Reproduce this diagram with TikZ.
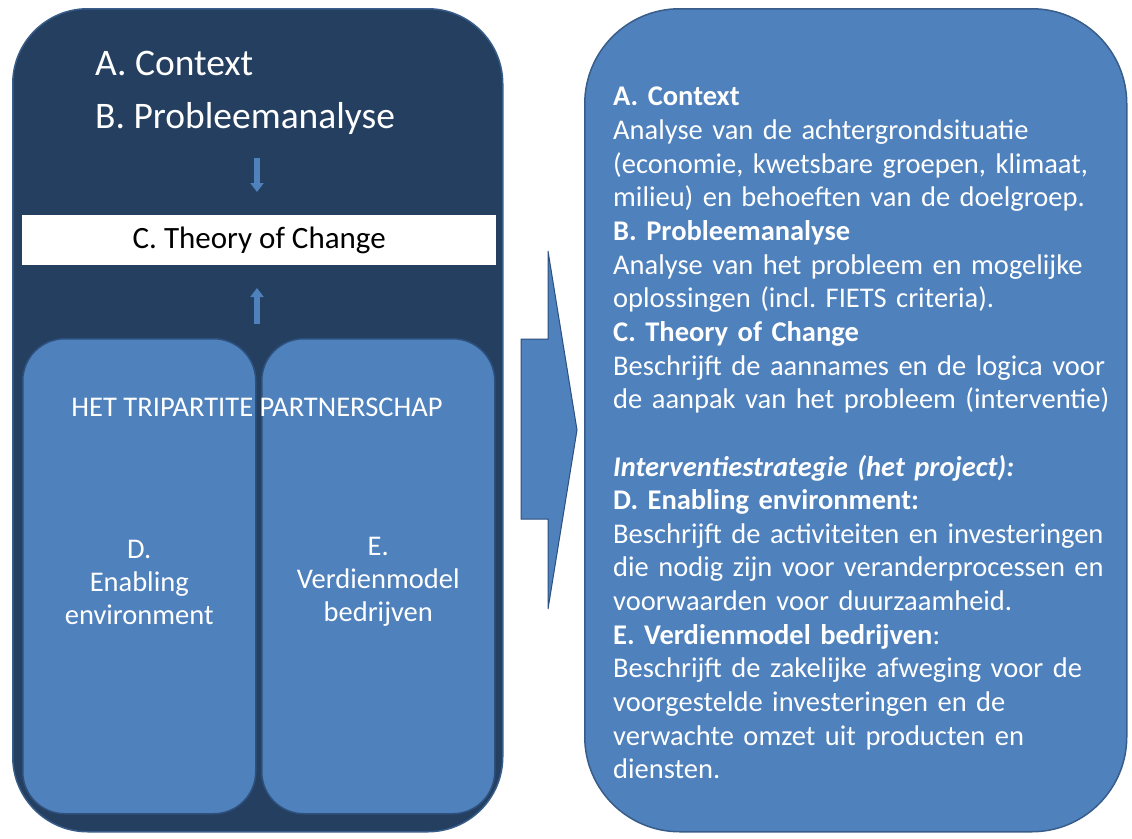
\documentclass[tikz,border=0pt]{standalone}
\usepackage{fontspec}
\setmainfont{Carlito}
\frenchspacing
\usetikzlibrary{arrows.meta,positioning}
\definecolor{navy}{RGB}{37,63,96}
\definecolor{officeblue}{RGB}{79,129,189}
\definecolor{blueline}{RGB}{56,93,138}
\definecolor{partline}{RGB}{45,80,125}
\begin{document}
\begin{tikzpicture}[x=1pt,y=-1pt,
   panel/.style={anchor=north west,inner sep=0pt,line width=1.5pt,rounded corners=#1},
   part/.style={panel=42pt,fill=officeblue,draw=partline,minimum width=233pt,minimum height=475pt},
   flow/.style={officeblue,line width=6pt,-{Triangle[width=13pt,length=9pt]}},
   plain/.style={text=white,inner sep=0pt}]
\useasboundingbox (0,0) rectangle (1132,838);
% left panel
\node[panel=75pt,fill=navy,draw=blueline,minimum width=490pt,minimum height=823pt] (left) at (12,8) {};
\node[plain,anchor=base west,font=\fontsize{37.5}{42}\selectfont] (ctx) at (95,75) {A. Context};
\node[plain,anchor=base west,font=\fontsize{37.5}{42}\selectfont] (prob) at (95,128) {B. Probleemanalyse};
\node[anchor=north west,fill=white,minimum width=474pt,minimum height=50pt,inner sep=0pt,
   font=\fontsize{31}{36}\selectfont] (toc) at (22,215) {C. Theory of Change};
\coordinate (d1) at (257,158);
\coordinate (d2) at (257,192);
\coordinate (u1) at (257,324);
\coordinate (u2) at (257,288);
\draw[flow] (d1) -- (d2);
\draw[flow] (u1) -- (u2);
% het partnerschap
\foreach \x/\n in {22/pd,261/pe} {
   \node[part] (\n) at (\x,338) {};
}
\node[plain,font=\fontsize{28.5}{32}\selectfont] (tri) at (257,407) {HET TRIPARTITE PARTNERSCHAP};
\node[plain,align=center,font=\fontsize{28.5}{33}\selectfont] (dlab) at ([yshift=-6pt]pd.center) {D.\\Enabling\\environment};
\node[plain,align=center,font=\fontsize{28.5}{33}\selectfont] (elab) at ([yshift=-6pt]pe.center) {E.\\Verdienmodel\\bedrijven};
% pijl
\draw[fill=officeblue,draw=partline,line width=1pt] (521,339) -- (548,339) -- (548,251) -- (577,430)
   -- (548,609) -- (548,519) -- (521,519) -- cycle;
% right panel
\node[panel=95pt,fill=officeblue,draw=blueline,minimum width=542pt,minimum height=823pt] (right) at (584,8) {};
\node[plain,anchor=north west,align=left,text width=510pt,font=\fontsize{28.5}{33.65}\selectfont] (desc) at (613,87) {%
\textbf{A. Context}\\
Analyse van de achtergrondsituatie\\
(economie, kwetsbare groepen, klimaat,\\
milieu) en behoeften van de doelgroep.\\
\textbf{B. Probleemanalyse}\\
Analyse van het probleem en mogelijke\\
oplossingen (incl. FIETS criteria).\\
\textbf{C. Theory of Change}\\
Beschrijft de aannames en de logica voor\\
de aanpak van het probleem (interventie)\\[33.65pt]
\textbf{\textit{Interventiestrategie (het project):}}\\
\textbf{D. Enabling environment:}\\
Beschrijft de activiteiten en investeringen\\
die nodig zijn voor veranderprocessen en\\
voorwaarden voor duurzaamheid.\\
\textbf{E. Verdienmodel bedrijven}:\\
Beschrijft de zakelijke afweging voor de\\
voorgestelde investeringen en de\\
verwachte omzet uit producten en\\
diensten.};
\end{tikzpicture}
\end{document}
